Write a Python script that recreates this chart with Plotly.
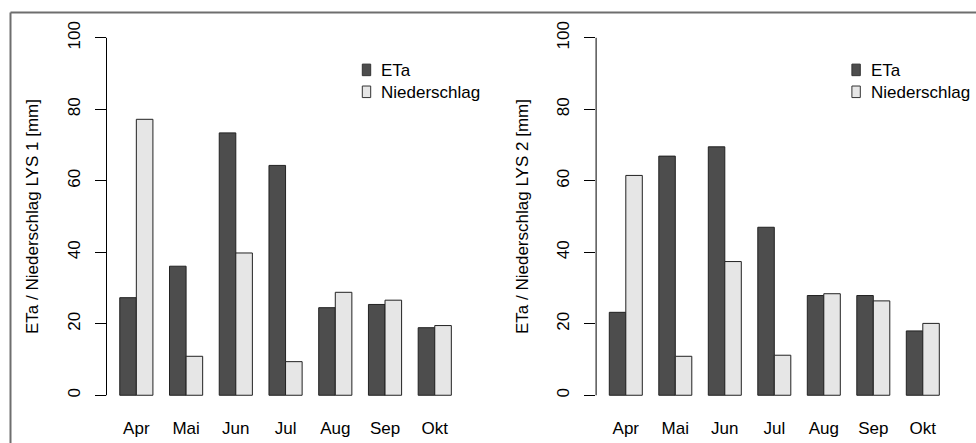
import plotly.graph_objects as go

months = ["Apr", "Mai", "Jun", "Jul", "Aug", "Sep", "Okt"]
eta_lys1 = [27.3, 36.1, 73.4, 64.3, 24.5, 25.4, 18.9]
ns_lys1 = [77.2, 10.9, 39.8, 9.4, 28.8, 26.6, 19.5]
eta_lys2 = [23.2, 66.9, 69.5, 47.0, 27.9, 27.9, 18.0]
ns_lys2 = [61.5, 10.9, 37.4, 11.2, 28.4, 26.4, 20.1]
series_names = ["ETa", "Niederschlag"]
y_ticks = [0, 20, 40, 60, 80, 100]
y_title1 = "ETa / Niederschlag LYS 1 [mm]"
y_title2 = "ETa / Niederschlag LYS 2 [mm]"

W, H = 976, 443
FONT = "Liberation Sans, Arial, sans-serif"
FS = 17
COLORS = ["#4D4D4D", "#E6E6E6"]
EDGE = "#222222"


def px(x):
    return x / W


def py(y):
    return 1 - y / H


fig = go.Figure()

panels = [("x", "y", [eta_lys1, ns_lys1]), ("x2", "y2", [eta_lys2, ns_lys2])]
for xa, ya, vals in panels:
    for name, v, col in zip(series_names, vals, COLORS):
        fig.add_trace(go.Bar(x=months, y=v, name=name, xaxis=xa, yaxis=ya, showlegend=False,
                             marker=dict(color=col, line=dict(color=EDGE, width=1))))

ydom = [py(409.4), py(21.6)]
left1, left2 = 106.5, 596.1
xdom1 = [px(left1), px(464.6)]
xdom2 = [px(left2), px(952.5)]

xcommon = dict(type="category", range=[-0.6, 6.6], showline=False, ticks="",
               showgrid=False, zeroline=False, tickfont=dict(size=FS, color="black"),
               ticklabelstandoff=6)
ycommon = dict(range=[-4, 104], showline=False, ticks="outside", ticklen=11, tickwidth=1,
               tickcolor="black", tickvals=y_ticks, tickangle=-90, showgrid=False,
               zeroline=False, tickfont=dict(size=FS, color="black"),
               ticklabelstandoff=8)

shapes = [
    dict(type="line", xref="paper", yref="y", x0=xdom1[0], x1=xdom1[0], y0=0, y1=100,
         line=dict(color="black", width=1)),
    dict(type="line", xref="paper", yref="y2", x0=xdom2[0], x1=xdom2[0], y0=0, y1=100,
         line=dict(color="black", width=1)),
    dict(type="line", xref="paper", yref="paper", x0=px(10.5), x1=1.01,
         y0=py(10.5), y1=py(10.5), line=dict(color="#6e6e6e", width=2)),
    dict(type="line", xref="paper", yref="paper", x0=px(10.5), x1=px(10.5),
         y0=py(10.5), y1=-0.01, line=dict(color="#6e6e6e", width=2)),
]
annotations = []

# legends (R-style: small filled boxes with labels)
for left in (left1, left2):
    for i, (name, col) in enumerate(zip(series_names, COLORS)):
        yc = 68.2 + 22 * i
        shapes.append(dict(type="rect", xref="paper", yref="paper",
                           x0=px(left + 255.8), x1=px(left + 264.2),
                           y0=py(yc - 5.8), y1=py(yc + 5.8),
                           fillcolor=col, line=dict(color="#333333", width=1)))
        annotations.append(dict(text=name, xref="paper", yref="paper",
                                x=px(left + 272.5), y=py(yc + 1), xanchor="left",
                                yanchor="middle", showarrow=False,
                                font=dict(size=FS, color="black")))

fig.update_layout(
    width=W, height=H,
    margin=dict(l=0, r=0, t=0, b=0),
    paper_bgcolor="white", plot_bgcolor="white",
    font=dict(family=FONT, size=FS, color="black"),
    barmode="group", bargap=1/3, bargroupgap=0,
    xaxis=dict(domain=xdom1, anchor="y", **xcommon),
    xaxis2=dict(domain=xdom2, anchor="y2", **xcommon),
    yaxis=dict(domain=ydom, anchor="x",
               title=dict(text=y_title1, font=dict(size=FS), standoff=21), **ycommon),
    yaxis2=dict(domain=ydom, anchor="x2",
                title=dict(text=y_title2, font=dict(size=FS), standoff=21), **ycommon),
    showlegend=False,
    shapes=shapes,
    annotations=annotations,
)

fig.write_html("out.html")
